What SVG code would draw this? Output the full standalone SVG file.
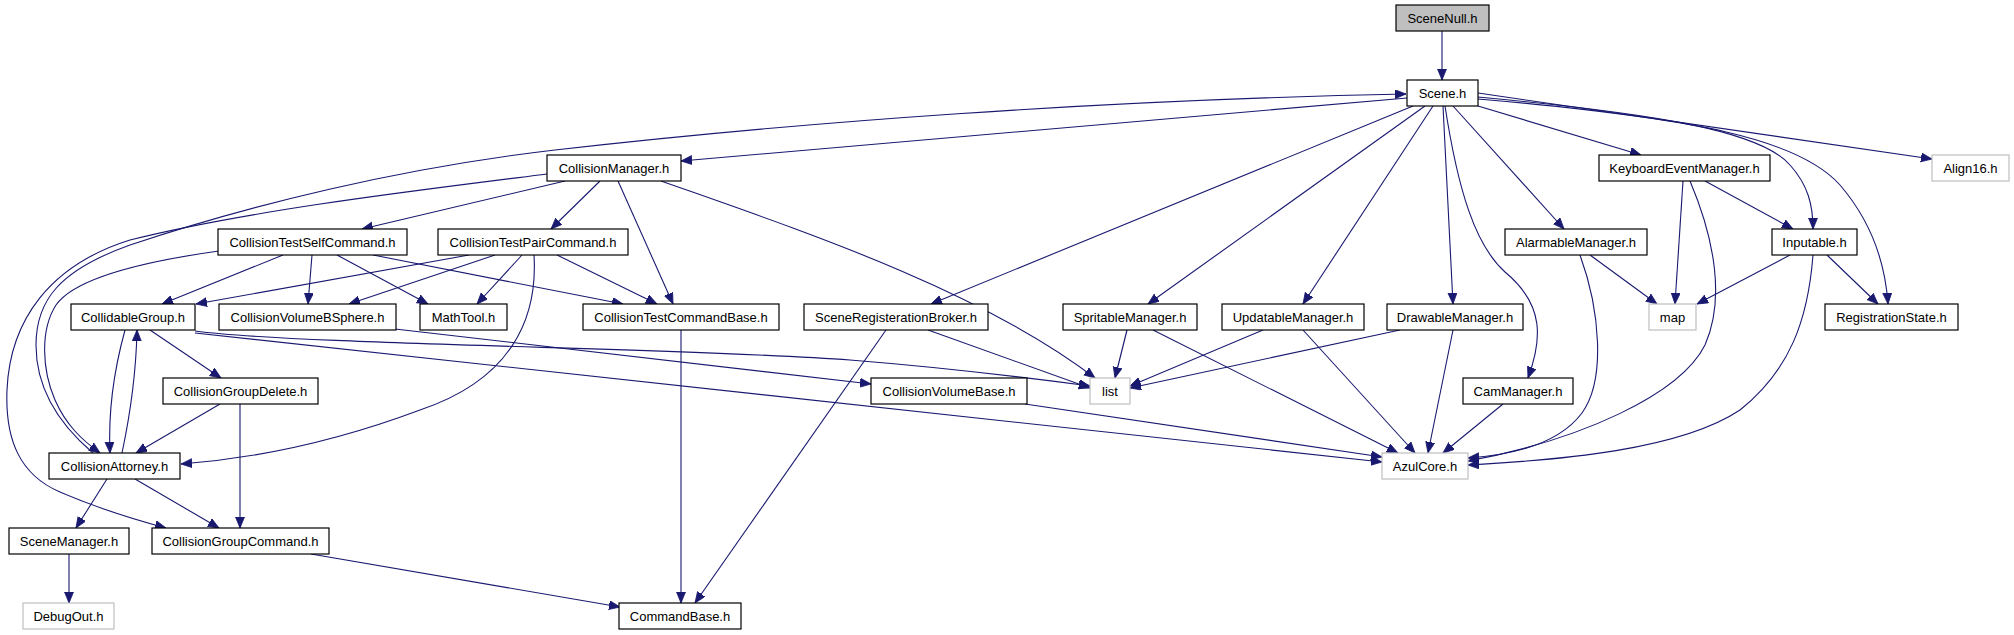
<svg xmlns="http://www.w3.org/2000/svg" width="2014" height="635" viewBox="0 0 2014 635">
<style>
.n rect{fill:#fff;stroke:#000;stroke-width:1.2}
.n.g rect{stroke:#bfbfbf}
.n.s rect{fill:#bfbfbf}
.n text{font-family:"Liberation Sans",Arial,sans-serif;font-size:13px;text-anchor:middle;fill:#000}
#edges path{fill:none;stroke:#191970;stroke-width:1.1;marker-end:url(#a)}
</style>
<defs>
<marker id="a" markerUnits="userSpaceOnUse" markerWidth="12" markerHeight="10" refX="11" refY="4.5" orient="auto">
<path d="M0,0 L11,4.5 L0,9 z" fill="#191970" stroke="#191970" stroke-width="0.8"/>
</marker>
</defs>
<rect width="2014" height="635" fill="#fff"/>
<g id="edges">
<path d="M1442,31 L1442,80"/>
<path d="M1407,98 L681,161"/>
<path d="M93,453 C60,425 36,390 36,345 C36,300 60,270 130,245 C250,205 400,168 555,150 C800,122 1100,100 1406,94"/>
<path d="M547,174 C420,190 250,210 130,240 C50,265 10,320 7,390 C5,440 20,475 60,492 C90,505 125,517 166,528"/>
<path d="M219,251 C140,262 75,278 56,305 C40,330 42,370 55,400 C66,425 82,440 100,453"/>
<path d="M125,330 C114,370 108,410 110,453"/>
<path d="M122,453 C129,420 136,380 137,330"/>
<path d="M150,330 L221,378"/>
<path d="M220,404 L136,453"/>
<path d="M240,404 L240,528"/>
<path d="M107,479 L76,528"/>
<path d="M135,479 L219,528"/>
<path d="M69,554 L69,603"/>
<path d="M311,554 L620,607"/>
<path d="M681,330 L681,603"/>
<path d="M886,330 L695,603"/>
<path d="M565,181 L362,229"/>
<path d="M600,181 L551,229"/>
<path d="M618,181 L673,304"/>
<path d="M661,181 C800,230 980,290 1095,378"/>
<path d="M283,255 L162,304"/>
<path d="M312,255 L308,304"/>
<path d="M337,255 L428,304"/>
<path d="M373,255 L623,304"/>
<path d="M469,255 L196,304"/>
<path d="M495,255 L349,304"/>
<path d="M522,255 L477,304"/>
<path d="M557,255 L657,304"/>
<path d="M534,255 C538,320 510,380 420,410 C340,440 260,458 181,464"/>
<path d="M395,329 L871,384"/>
<path d="M195,331 C300,345 700,348 850,360 C950,368 1030,378 1090,386"/>
<path d="M195,333 L1382,462"/>
<path d="M1025,404 L1382,457"/>
<path d="M928,330 L1090,388"/>
<path d="M1413,106 L931,304"/>
<path d="M1425,106 L1148,304"/>
<path d="M1433,106 L1303,304"/>
<path d="M1443,106 C1446,170 1450,240 1453,304"/>
<path d="M1445,106 C1458,190 1475,245 1505,272 C1545,305 1542,340 1528,378"/>
<path d="M1453,106 L1564,229"/>
<path d="M1478,106 L1641,155"/>
<path d="M1478,97 C1650,113 1760,130 1790,165 C1808,185 1813,205 1813,229"/>
<path d="M1478,99 C1700,118 1800,140 1840,185 C1870,220 1885,260 1888,304"/>
<path d="M1478,93 L1932,159"/>
<path d="M1683,181 L1675,304"/>
<path d="M1705,181 L1793,229"/>
<path d="M1690,181 C1715,240 1725,300 1705,345 C1680,395 1580,440 1468,461"/>
<path d="M1590,255 L1657,304"/>
<path d="M1580,255 C1600,310 1606,380 1582,413 C1558,445 1512,455 1468,458"/>
<path d="M1790,255 L1697,304"/>
<path d="M1827,255 L1878,304"/>
<path d="M1813,255 C1808,320 1790,370 1740,410 C1680,450 1560,460 1468,465"/>
<path d="M1127,330 L1115,378"/>
<path d="M1153,330 L1398,453"/>
<path d="M1263,330 L1130,386"/>
<path d="M1303,330 L1415,453"/>
<path d="M1400,330 L1130,388"/>
<path d="M1453,330 L1428,453"/>
<path d="M1503,404 L1443,453"/>
</g>
<g id="n-scenenull" class="n s"><rect x="1396" y="5" width="93" height="26"/><text x="1442.5" y="22.5">SceneNull.h</text></g>
<g id="n-scene" class="n"><rect x="1407" y="80" width="71" height="26"/><text x="1442.5" y="97.5">Scene.h</text></g>
<g id="n-collisionmanager" class="n"><rect x="547" y="155" width="134" height="26"/><text x="614" y="172.5">CollisionManager.h</text></g>
<g id="n-keyboard" class="n"><rect x="1599" y="155" width="171" height="26"/><text x="1684.5" y="172.5">KeyboardEventManager.h</text></g>
<g id="n-align16" class="n g"><rect x="1932" y="155" width="77" height="26"/><text x="1970.5" y="172.5">Align16.h</text></g>
<g id="n-testself" class="n"><rect x="218" y="229" width="189" height="26"/><text x="312.5" y="246.5">CollisionTestSelfCommand.h</text></g>
<g id="n-testpair" class="n"><rect x="438" y="229" width="190" height="26"/><text x="533" y="246.5">CollisionTestPairCommand.h</text></g>
<g id="n-alarmable" class="n"><rect x="1505" y="229" width="142" height="26"/><text x="1576" y="246.5">AlarmableManager.h</text></g>
<g id="n-inputable" class="n"><rect x="1772" y="229" width="85" height="26"/><text x="1814.5" y="246.5">Inputable.h</text></g>
<g id="n-collidable" class="n"><rect x="71" y="304" width="124" height="26"/><text x="133" y="321.5">CollidableGroup.h</text></g>
<g id="n-bsphere" class="n"><rect x="219" y="304" width="177" height="26"/><text x="307.5" y="321.5">CollisionVolumeBSphere.h</text></g>
<g id="n-mathtool" class="n"><rect x="420" y="304" width="87" height="26"/><text x="463.5" y="321.5">MathTool.h</text></g>
<g id="n-testbase" class="n"><rect x="583" y="304" width="196" height="26"/><text x="681" y="321.5">CollisionTestCommandBase.h</text></g>
<g id="n-broker" class="n"><rect x="804" y="304" width="184" height="26"/><text x="896" y="321.5">SceneRegisterationBroker.h</text></g>
<g id="n-spritable" class="n"><rect x="1063" y="304" width="134" height="26"/><text x="1130" y="321.5">SpritableManager.h</text></g>
<g id="n-updatable" class="n"><rect x="1222" y="304" width="142" height="26"/><text x="1293" y="321.5">UpdatableManager.h</text></g>
<g id="n-drawable" class="n"><rect x="1387" y="304" width="136" height="26"/><text x="1455" y="321.5">DrawableManager.h</text></g>
<g id="n-map" class="n g"><rect x="1649" y="304" width="47" height="26"/><text x="1672.5" y="321.5">map</text></g>
<g id="n-regstate" class="n"><rect x="1825" y="304" width="133" height="26"/><text x="1891.5" y="321.5">RegistrationState.h</text></g>
<g id="n-groupdelete" class="n"><rect x="163" y="378" width="155" height="26"/><text x="240.5" y="395.5">CollisionGroupDelete.h</text></g>
<g id="n-volumebase" class="n"><rect x="871" y="378" width="156" height="26"/><text x="949" y="395.5">CollisionVolumeBase.h</text></g>
<g id="n-list" class="n g"><rect x="1090" y="378" width="40" height="26"/><text x="1110" y="395.5">list</text></g>
<g id="n-cam" class="n"><rect x="1463" y="378" width="110" height="26"/><text x="1518" y="395.5">CamManager.h</text></g>
<g id="n-attorney" class="n"><rect x="49" y="453" width="131" height="26"/><text x="114.5" y="470.5">CollisionAttorney.h</text></g>
<g id="n-azulcore" class="n g"><rect x="1382" y="453" width="86" height="26"/><text x="1425" y="470.5">AzulCore.h</text></g>
<g id="n-scenemanager" class="n"><rect x="9" y="528" width="120" height="26"/><text x="69" y="545.5">SceneManager.h</text></g>
<g id="n-groupcommand" class="n"><rect x="152" y="528" width="177" height="26"/><text x="240.5" y="545.5">CollisionGroupCommand.h</text></g>
<g id="n-debugout" class="n g"><rect x="23" y="603" width="91" height="26"/><text x="68.5" y="620.5">DebugOut.h</text></g>
<g id="n-commandbase" class="n"><rect x="619" y="603" width="122" height="26"/><text x="680" y="620.5">CommandBase.h</text></g>
</svg>
